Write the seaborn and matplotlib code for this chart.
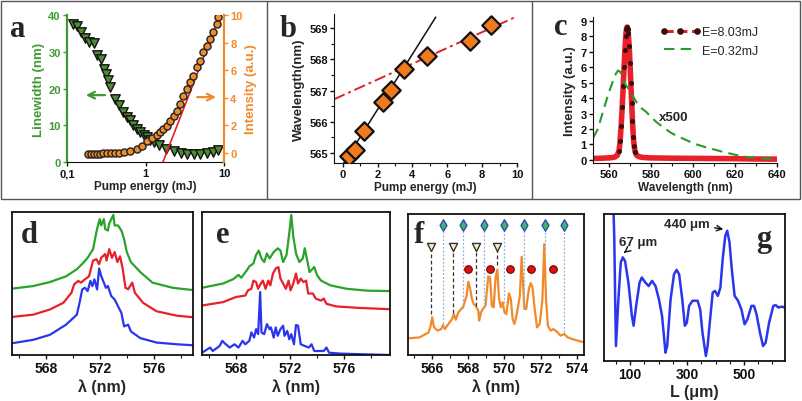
import matplotlib
matplotlib.use("Agg")
import matplotlib.pyplot as plt
import matplotlib.ticker as mticker
from matplotlib.patches import Rectangle
from matplotlib.lines import Line2D
import seaborn as sns

# ---------------- data ----------------
# (a) linewidth and intensity vs pump energy
a_lw_energy = [0.12, 0.135, 0.15, 0.17, 0.19, 0.22, 0.24, 0.27, 0.30, 0.315, 0.33, 0.355, 0.41,
               0.46, 0.52, 0.58, 0.64, 0.70, 0.77, 0.86, 0.95, 1.04, 1.15, 1.27, 1.5, 1.8, 2.3,
               2.8, 3.4, 4.1, 4.9, 6.0, 7.3, 8.5]
a_lw_nm = [37.6, 36.9, 35.3, 33.7, 32.6, 32.4, 29.0, 28.0, 25.3, 24.0, 22.2, 20.4, 17.2,
           15.5, 13.6, 12.2, 11.3, 10.0, 9.0, 8.1, 7.4, 6.8, 6.0, 5.4, 4.5, 3.6, 3.0,
           2.5, 2.3, 2.3, 2.3, 2.5, 2.6, 3.2]
a_int_energy = [0.183, 0.2, 0.22, 0.24, 0.26, 0.29, 0.322, 0.36, 0.411, 0.46, 0.525, 0.638,
                0.776, 0.898, 1.04, 1.20, 1.39, 1.53, 1.69, 1.87, 2.06, 2.28, 2.50, 2.76,
                3.04, 3.36, 3.70, 4.08, 4.50, 4.96, 5.46, 6.02, 6.64, 7.32, 8.07, 8.5]
a_int_au = [-0.07, -0.07, -0.07, -0.07, -0.05, -0.03, -0.02, -0.01, 0.0, 0.02, 0.05, 0.17,
            0.29, 0.53, 0.89, 1.06, 1.30, 1.50, 1.74, 1.98, 2.34, 2.71, 3.07, 3.55,
            4.15, 4.64, 5.12, 5.60, 6.21, 6.69, 7.29, 7.78, 8.26, 8.74, 9.35, 9.83]
a_fit_energy = [1.66, 8.89]
a_fit_int = [-0.68, 10.0]

# (b) peak wavelength vs pump energy
b_energy = [0.35, 0.7, 1.24, 2.33, 2.77, 3.53, 4.81, 7.31, 8.53]
b_wavelength = [564.9, 565.1, 565.7, 566.63, 567.03, 567.7, 568.1, 568.58, 569.09]
b_fit1_energy = [0.04, 5.34]
b_fit1_wl = [564.66, 569.35]
b_fit2_energy = [-0.5, 9.9]
b_fit2_wl = [566.72, 569.35]

# (c) emission spectra
c_hi_wl = [552.5, 555, 558, 560, 562, 563, 564, 564.8, 565.3, 565.8, 566.3, 566.8, 567.2, 567.6,
           568.0, 568.3, 568.6, 568.9, 569.2, 569.6, 570.0, 570.4, 570.8, 571.2, 571.6, 572.0,
           572.5, 573.2, 574, 576, 580, 590, 600, 610, 620, 630, 640]
c_hi_int = [0.1, 0.1, 0.12, 0.13, 0.16, 0.2, 0.3, 0.6, 1.2, 2.2, 3.4, 4.8, 6.0, 7.1,
            8.0, 8.45, 8.6, 8.5, 8.2, 7.4, 6.3, 5.0, 3.7, 2.5, 1.5, 0.9,
            0.5, 0.3, 0.22, 0.16, 0.13, 0.11, 0.1, 0.09, 0.08, 0.06, 0.05]
c_lo_wl = [552.4, 554.7, 557.1, 559.5, 561.6, 563.2, 564.3, 565.4, 566.7, 568, 569.9, 571.5,
           573.1, 575, 577.8, 580, 582.6, 586, 589, 592, 595.4, 598.5, 601.8, 606, 609.7,
           614, 617.7, 621.5, 625.7, 630, 633.6, 637, 640]
c_lo_int = [1.42, 2.0, 3.1, 4.17, 5.0, 5.56, 5.78, 5.7, 5.24, 4.85, 4.49, 4.1,
            3.74, 3.4, 3.1, 2.78, 2.45, 2.1, 1.8, 1.57, 1.37, 1.18, 1.0, 0.82, 0.69,
            0.53, 0.41, 0.29, 0.19, 0.13, 0.09, 0.05, 0.02]
c_labels = ["E=8.03mJ", "E=0.32mJ"]

# (d) spectra (offset, a.u.)
d_green_wl = [565.5, 567.06, 568.3, 569.5, 570.3, 570.8, 571.1, 571.5, 571.75, 571.9, 572.0, 572.1,
              572.3, 572.4, 572.6, 572.7, 573.0, 573.1, 573.35, 573.6, 573.8, 574.0, 574.3, 575.0,
              575.9, 577.4, 578.9]
d_green = [4.64, 4.82, 5.1, 5.5, 6.0, 6.47, 6.8, 7.4, 8.6, 9.2, 9.5, 9.06, 9.5, 8.8, 8.7, 9.2,
           9.8, 9.06, 9.06, 8.7, 8.1, 7.2, 6.5, 5.8, 5.06, 4.7, 4.54]
d_red_wl = [565.5, 567.06, 568.3, 569.3, 569.9, 570.1, 570.4, 570.6, 570.9, 571.2, 571.5, 571.75,
            571.95, 572.1, 572.4, 572.5, 572.7, 572.9, 573.1, 573.3, 573.5, 573.7, 573.9, 574.1,
            574.4, 574.6, 575.2, 576.2, 577.7, 578.9]
d_red = [2.66, 2.82, 3.18, 3.65, 4.35, 4.94, 5.18, 5.06, 5.29, 5.5, 6.6, 6.7, 6.35, 6.8, 7.06,
         6.6, 7.4, 6.8, 7.2, 6.5, 6.9, 6.0, 4.7, 4.6, 5.06, 4.35, 3.65, 3.06, 2.75, 2.64]
d_blue_wl = [565.5, 567.06, 568.3, 569.5, 570.3, 570.5, 570.7, 570.9, 571.1, 571.3, 571.45, 571.6,
             571.8, 571.95, 572.1, 572.3, 572.45, 572.6, 572.85, 573.1, 573.35, 573.6, 573.8,
             574.1, 574.3, 575.0, 576.2, 577.7, 578.9]
d_blue = [0.82, 1.06, 1.41, 2.12, 2.82, 3.65, 4.59, 4.7, 4.47, 5.18, 4.82, 5.29, 4.59, 6.05, 5.53,
          5.06, 4.7, 4.82, 4.12, 3.88, 3.41, 2.94, 2.0, 2.12, 1.65, 1.18, 0.87, 0.75, 0.68]

# (e) spectra (offset, a.u.)
e_green_wl = [565.5, 567.06, 567.8, 568.2, 568.4, 568.8, 569.0, 569.3, 569.5, 569.7, 569.9, 570.1,
              570.3, 570.5, 570.8, 571.1, 571.3, 571.5, 571.75, 571.95, 572.1, 572.25, 572.45,
              572.7, 572.95, 573.1, 573.25, 573.45, 573.8, 574.0, 574.3, 575.0, 576.2, 577.7, 579.4]
e_green = [4.7, 5.0, 5.3, 5.6, 5.4, 5.9, 6.2, 6.4, 7.0, 7.3, 6.75, 6.5, 7.1, 6.75, 7.2, 7.46, 7.3,
           6.5, 7.0, 8.5, 9.8, 8.3, 7.1, 6.5, 6.75, 7.46, 6.75, 5.8, 6.15, 5.6, 5.2, 4.87, 4.63,
           4.5, 4.47]
e_red_wl = [565.5, 567.06, 568.0, 568.7, 568.9, 569.15, 569.3, 569.5, 569.65, 569.85, 570.0, 570.2,
            570.4, 570.55, 570.75, 570.95, 571.15, 571.3, 571.5, 571.7, 571.9, 572.05, 572.25,
            572.45, 572.6, 572.8, 573.0, 573.2, 573.35, 573.7, 573.9, 574.3, 574.5, 574.7, 575.4,
            577.0, 579.4]
e_red = [3.46, 3.7, 4.05, 4.16, 4.52, 4.63, 5.2, 5.1, 4.63, 5.0, 5.2, 4.63, 5.2, 4.87, 5.7, 6.05,
         6.15, 5.34, 5.0, 4.63, 5.2, 4.52, 5.0, 5.7, 5.0, 5.34, 5.1, 5.2, 4.3, 4.3, 3.95, 3.8, 3.95,
         3.58, 3.4, 3.3, 3.2]
e_blue_wl = [565.5, 566.1, 566.3, 566.8, 567.0, 567.2, 567.55, 567.9, 568.2, 568.5, 568.7, 569.0,
             569.15, 569.35, 569.5, 569.65, 569.8, 569.9, 570.1, 570.3, 570.5, 570.6, 570.8, 570.95,
             571.1, 571.3, 571.5, 571.6, 571.8, 571.95, 572.1, 572.3, 572.45, 572.6, 572.8, 573.1,
             573.4, 573.6, 573.8, 574.5, 574.7, 574.9, 575.7, 577.4, 579.4]
e_blue = [0.16, 0.52, 0.28, 0.63, 0.99, 0.8, 0.52, 0.75, 0.52, 0.99, 0.75, 0.99, 1.58, 1.22, 1.81,
          1.46, 4.4, 1.58, 1.46, 2.16, 1.81, 1.93, 1.22, 1.93, 1.34, 1.81, 2.05, 1.34, 1.69, 1.1,
          1.46, 0.75, 2.1, 2.05, 0.75, 0.63, 0.52, 0.75, 0.28, 0.28, 0.52, 0.16, 0.1, 0.05, 0.0]

# (f) spectrum with mode combs
f_wl = [564.66, 565.3, 565.8, 565.9, 566.0, 566.1, 566.3, 566.5, 566.6, 566.7, 566.9, 567.1, 567.2,
        567.3, 567.45, 567.6, 567.7, 567.9, 568.0, 568.1, 568.2, 568.3, 568.4, 568.55, 568.6, 568.7,
        568.8, 568.95, 569.1, 569.2, 569.3, 569.4, 569.5, 569.6, 569.7, 569.8, 569.9, 570.0, 570.1,
        570.25, 570.35, 570.45, 570.55, 570.7, 570.85, 570.95, 571.1, 571.2, 571.35, 571.45,
        571.55, 571.65, 571.8, 571.95, 572.1, 572.2, 572.3, 572.4, 572.55, 572.7, 572.95, 573.1,
        573.3, 573.5, 573.75, 574.05, 574.4]
f_int = [1.18, 1.25, 1.6, 2.0, 2.67, 1.96, 1.73, 1.84, 2.13, 1.84, 2.2, 2.55, 2.9,
         2.5, 3.03, 3.26, 3.38, 4.2, 5.2, 4.68, 3.97, 3.6, 3.5, 3.14, 2.43, 3.03,
         3.26, 3.5, 5.58, 5.5, 3.5, 3.38, 5.4, 6.05, 3.97, 3.38, 3.74, 3.03, 2.9,
         4.37, 3.97, 2.55, 2.2, 3.03, 4.2, 6.97, 3.26, 3.26, 4.68, 5.1,
         4.8, 3.5, 1.96, 2.2, 3.97, 7.87, 3.97, 2.08, 1.73, 1.84, 1.6, 1.37,
         1.49, 1.25, 1.13, 1.02, 0.9]
f_tri_wl = [565.96, 567.17, 568.44, 569.59]
f_tri_level = [7.64, 7.64, 7.64, 7.64]
f_tri_drop = [2.9, 3.0, 3.5, 6.4]
f_dia_wl = [566.61, 567.73, 568.85, 569.96, 571.08, 572.23, 573.27]
f_dia_level = [9.2, 9.2, 9.2, 9.2, 9.2, 9.2, 9.2]
f_dia_drop = [2.0, 3.3, 3.3, 3.7, 3.3, 7.5, 1.6]
f_cir_wl = [568.0, 569.18, 570.30, 571.49, 572.66]
f_cir_level = [6.1, 6.1, 6.1, 6.1, 6.1]

# (g) Fourier transform
g_L = [41, 44, 47, 50, 58.6, 66.9, 74, 82, 94, 106, 112, 121, 133, 141, 153, 165, 177, 189, 201,
       212, 224, 230, 242, 254, 263, 272, 283, 292, 299, 307, 319, 337, 346, 354, 366, 372, 382,
       390, 398, 408, 417, 425, 434, 441, 449, 457, 467, 479, 491, 502, 512, 526, 535, 544, 556,
       567, 576, 588, 603, 611, 621, 633, 642]
g_amp = [10.5, 8.5, 4.5, 1.02, 4.2, 6.7, 7.05, 6.8, 5.3, 3.07, 2.4, 3.75, 5.34, 5.68, 5.34, 5.1,
         5.45, 5.1, 4.2, 3.07, 0.57, 1.02, 4.2, 5.9, 6.2, 5.9, 4.2, 2.4, 2.6, 3.75, 4.1, 4.1, 3.5,
         1.93, 0.34, 1.02, 3.07, 4.66, 4.77, 4.43, 5.0, 6.93, 8.5, 8.86, 8.07, 6.25, 4.43, 4.1,
         3.5, 2.5, 2.84, 3.75, 3.75, 3.18, 1.93, 1.02, 1.25, 2.6, 3.75, 3.8, 3.64, 3.7, 3.64]

# ---------------- style ----------------
sns.set_style("ticks")
plt.rcParams['font.family'] = ['Liberation Sans', 'DejaVu Sans']
plt.rcParams['font.weight'] = 'bold'
plt.rcParams['axes.labelweight'] = 'bold'
plt.rcParams['axes.edgecolor'] = '#111111'
plt.rcParams['xtick.color'] = '#111111'
plt.rcParams['ytick.color'] = '#111111'

GREEN = '#3f9a35'
ORANGE = '#f08a2a'
RED = '#e8202a'
BLUE = '#2b35ee'
W, H = 803, 402
fig = plt.figure(figsize=(W / 100, H / 100), dpi=100)


def box(l, t, r, b):
    return fig.add_axes([l / W, 1 - b / H, (r - l) / W, (b - t) / H])


def letter(x, y, s):
    fig.text(x / W, 1 - y / H, s, fontfamily='Liberation Serif', fontweight='bold',
             fontsize=22, ha='center', va='baseline')


def small_ticks(ax, size):
    ax.tick_params(axis='both', which='major', direction='out', length=3, width=1,
                   labelsize=size, pad=1.5)
    ax.tick_params(axis='both', which='minor', direction='out', length=2, width=0.8)
    for lab in ax.get_xticklabels() + ax.get_yticklabels():
        lab.set_fontweight('bold')


# ---------------- panel a ----------------
axa = box(67, 16, 224, 163)
axa.set_xscale('log')
axa2 = axa.twinx()
sns.scatterplot(x=a_lw_energy, y=a_lw_nm, ax=axa, marker='v', s=46, color='#4e8c34',
                edgecolor='#111111', linewidth=1.0, zorder=3)
sns.lineplot(x=a_fit_energy, y=a_fit_int, ax=axa2, color=RED, lw=1.2, estimator=None)
sns.scatterplot(x=a_int_energy, y=a_int_au, ax=axa2, marker='o', s=26, color=ORANGE,
                edgecolor='#222222', linewidth=1.0, zorder=3)
axa.set_xlim(0.1, 10)
axa.set_ylim(0, 40)
axa2.set_ylim(-0.65, 10)
axa.set_xticks([0.1, 1, 10], labels=['0,1', '1', '10'])
axa.xaxis.set_minor_locator(mticker.NullLocator())
axa.set_yticks([0, 10, 20, 30, 40])
axa2.set_yticks([0, 2, 4, 6, 8, 10])
for sp in ['top', 'right']:
    axa.spines[sp].set_visible(False)
for sp in ['top', 'left', 'bottom']:
    axa2.spines[sp].set_visible(False)
axa.spines['left'].set_color(GREEN)
axa.spines['left'].set_linewidth(1.6)
axa2.spines['right'].set_color(ORANGE)
axa2.spines['right'].set_linewidth(1.6)
small_ticks(axa, 8)
small_ticks(axa2, 8)
axa.tick_params(axis='y', colors=GREEN)
axa2.tick_params(axis='y', colors=ORANGE)
axa.set_xlabel('Pump energy (mJ)', fontsize=8.5, labelpad=1)
axa.set_ylabel('Linewidth (nm)', fontsize=9.5, color=GREEN, labelpad=2)
axa2.set_ylabel('Intensity (a.u.)', fontsize=9.5, color=ORANGE, labelpad=2)
axa.annotate('', xy=(0.16, 18.2), xytext=(0.33, 18.2),
             arrowprops=dict(arrowstyle='->', color=GREEN, lw=1.6, mutation_scale=12))
axa2.annotate('', xy=(8.6, 4.05), xytext=(4.2, 4.05),
              arrowprops=dict(arrowstyle='->', color=ORANGE, lw=1.6, mutation_scale=12))
letter(18, 37, 'a')

# ---------------- panel b ----------------
axb = box(334, 15, 517, 164)
sns.lineplot(x=b_fit1_energy, y=b_fit1_wl, ax=axb, color='#111111', lw=1.1, estimator=None)
sns.lineplot(x=b_fit2_energy, y=b_fit2_wl, ax=axb, color='#e02030', lw=1.4, estimator=None,
             dashes=False, linestyle=(0, (6, 2, 1.5, 2)))
sns.scatterplot(x=b_energy, y=b_wavelength, ax=axb, marker='D', s=88, color='#f07a1e',
                edgecolor='#111111', linewidth=1.6, zorder=3)
axb.set_xlim(-0.5, 10)
axb.set_ylim(564.68, 569.45)
axb.set_xticks([0, 2, 4, 6, 8, 10])
axb.xaxis.set_minor_locator(mticker.MultipleLocator(1))
axb.set_yticks([565, 566, 567, 568, 569])
axb.yaxis.set_minor_locator(mticker.MultipleLocator(0.5))
axb.spines['top'].set_visible(False)
axb.spines['right'].set_visible(False)
small_ticks(axb, 8)
axb.set_xlabel('Pump energy (mJ)', fontsize=8.5, labelpad=1)
axb.set_ylabel('Wavelength(nm)', fontsize=9.5, labelpad=3)
letter(288, 37, 'b')

# ---------------- panel c ----------------
axc = box(593, 18, 777, 164)
sns.lineplot(x=c_hi_wl, y=c_hi_int, ax=axc, color=RED, lw=4, marker='o', markersize=2.8,
             markerfacecolor='#3a0c0c', markeredgecolor='#3a0c0c', markevery=slice(7, 27),
             estimator=None, label=c_labels[0])
sns.lineplot(x=c_lo_wl, y=c_lo_int, ax=axc, color='#2a9a2a', lw=1.5, estimator=None,
             dashes=False, linestyle=(0, (5, 3)), label=c_labels[1])
axc.text(590.6, 2.77, 'x500', ha='center', va='center', fontsize=9.5, fontweight='bold')
axc.set_xlim(552.4, 640)
axc.set_ylim(-0.2, 9.25)
axc.set_xticks([560, 580, 600, 620, 640])
axc.xaxis.set_minor_locator(mticker.MultipleLocator(10))
axc.set_yticks(range(0, 10))
axc.spines['top'].set_visible(False)
axc.spines['right'].set_visible(False)
small_ticks(axc, 8)
axc.set_xlabel('Wavelength (nm)', fontsize=8.5, labelpad=1)
axc.set_ylabel('Intensity (a.u.)', fontsize=9.5, labelpad=3)
leg = axc.legend(loc='upper left', bbox_to_anchor=(0.36, 0.97), frameon=False, fontsize=9,
                 handlelength=2.6, handletextpad=0.4, labelspacing=0.5, borderaxespad=0)
for t in leg.get_texts():
    t.set_fontweight('normal')
hl = leg.legend_handles[0]
hl.set_linewidth(2.2)
hl.set_linestyle((0, (3, 1.5)))
hl.set_markevery(None)
hl.set_markersize(4)
letter(561, 35, 'c')

# ---------------- panels d, e ----------------
def spectrum_axis(ax, xlim):
    ax.set_xlim(*xlim)
    ax.set_ylim(0, 10)
    ax.set_yticks([])
    ax.xaxis.set_major_locator(mticker.FixedLocator([568, 572, 576]))
    ax.xaxis.set_minor_locator(mticker.MultipleLocator(2))
    for sp in ax.spines.values():
        sp.set_linewidth(1.3)
    small_ticks(ax, 10)
    ax.set_xlabel('λ (nm)', fontsize=11.5, labelpad=2)


axd = box(12, 213, 193, 356)
for wl, val, col in [(d_green_wl, d_green, '#2aa32a'), (d_red_wl, d_red, RED),
                     (d_blue_wl, d_blue, BLUE)]:
    sns.lineplot(x=wl, y=val, ax=axd, color=col, lw=1.6, estimator=None)
spectrum_axis(axd, (565.5, 578.9))
letter(29, 243, 'd')

axe = box(202, 213, 390, 356)
for wl, val, col in [(e_green_wl, e_green, '#2aa32a'), (e_red_wl, e_red, RED),
                     (e_blue_wl, e_blue, BLUE)]:
    sns.lineplot(x=wl, y=val, ax=axe, color=col, lw=1.6, estimator=None)
spectrum_axis(axe, (565.5, 579.4))
letter(223, 243, 'e')

# ---------------- panel f ----------------
axf = box(408, 215, 584, 356)
sns.lineplot(x=f_wl, y=f_int, ax=axf, color=ORANGE, lw=1.6, estimator=None)
axf.vlines(f_tri_wl, f_tri_drop, f_tri_level, colors='#333333', lw=0.9, linestyles=(0, (3, 2)))
axf.vlines(f_dia_wl, f_dia_drop, f_dia_level, colors='#8fb3d6', lw=0.9, linestyles=(0, (1.5, 1.5)))
sns.scatterplot(x=f_tri_wl, y=f_tri_level, ax=axf, marker='v', s=34, color='#fff0c0',
                edgecolor='#333333', linewidth=1.0, zorder=4)
sns.scatterplot(x=f_dia_wl, y=f_dia_level, ax=axf, marker='d', s=34, color='#3fbf3f',
                edgecolor='#2a4ad0', linewidth=1.0, zorder=4)
sns.scatterplot(x=f_cir_wl, y=f_cir_level, ax=axf, marker='o', s=30, color='#dd1111',
                edgecolor='#7a0000', linewidth=0.8, zorder=4)
axf.set_xlim(564.66, 574.4)
axf.set_ylim(0, 10)
axf.set_yticks([])
axf.xaxis.set_major_locator(mticker.MultipleLocator(2))
axf.xaxis.set_minor_locator(mticker.MultipleLocator(1))
for sp in axf.spines.values():
    sp.set_linewidth(1.3)
small_ticks(axf, 10)
axf.set_xlabel('λ (nm)', fontsize=11.5, labelpad=2)
letter(419, 243, 'f')

# ---------------- panel g ----------------
axg = box(604, 215, 785, 362)
sns.lineplot(x=g_L, y=g_amp, ax=axg, color=BLUE, lw=1.8, estimator=None)
axg.set_xlim(8, 644)
axg.set_ylim(0, 10)
axg.set_yticks([])
axg.xaxis.set_major_locator(mticker.FixedLocator([100, 300, 500]))
axg.xaxis.set_minor_locator(mticker.MultipleLocator(50))
for sp in axg.spines.values():
    sp.set_linewidth(1.3)
small_ticks(axg, 10)
axg.set_xlabel('L (μm)', fontsize=11.5, labelpad=2)
axg.annotate('67 μm', xy=(74, 7.3), xytext=(128, 8.1), ha='center', va='center',
             fontsize=9.5, fontweight='bold',
             arrowprops=dict(arrowstyle='->', lw=1.0, color='#111111', shrinkA=1, shrinkB=1))
axg.annotate('440 μm', xy=(432, 8.95), xytext=(300, 9.35), ha='center', va='center',
             fontsize=9.5, fontweight='bold',
             arrowprops=dict(arrowstyle='->', lw=1.0, color='#111111', shrinkA=1, shrinkB=1))
letter(764, 247, 'g')

# ---------------- frames (top row) ----------------
fig.add_artist(Rectangle((1.5 / W, 1 - 200 / H), 798.5 / W, 198.5 / H, transform=fig.transFigure,
                         fill=False, ec='#555555', lw=1.0))
for xd in (267, 532):
    fig.add_artist(Line2D([xd / W, xd / W], [1 - 200 / H, 1 - 1.5 / H], transform=fig.transFigure,
                          color='#555555', lw=1.0))

fig.savefig('out.png', dpi=100)
